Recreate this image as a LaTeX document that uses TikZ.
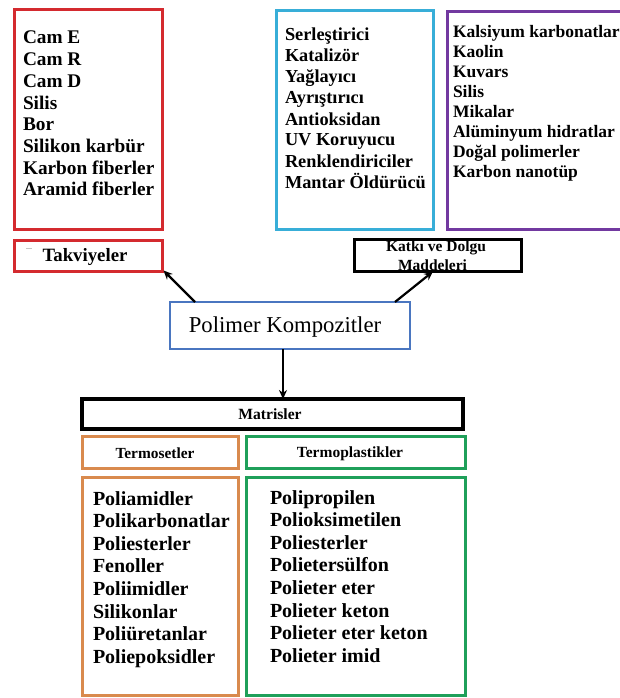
\documentclass[tikz,border=0pt]{standalone}
\usepackage{fontspec}
\setmainfont{Liberation Serif}
\usetikzlibrary{arrows.meta}
\definecolor{cred}{HTML}{D42A2F}
\definecolor{ccyan}{HTML}{38AED8}
\definecolor{cpurple}{HTML}{7239A0}
\definecolor{corange}{HTML}{D98A4E}
\definecolor{cgreen}{HTML}{1FA05A}
\definecolor{cblue}{HTML}{4A76C0}
\begin{document}
\begin{tikzpicture}[x=1pt,y=-1pt,
  frame/.style={rectangle, inner sep=0pt, outer sep=0pt, line width=3pt},
  item/.style={anchor=base west, inner sep=0pt, outer sep=0pt},
  lbl/.style={anchor=base, inner sep=0pt, outer sep=0pt},
  arr/.style={line width=2.2pt, -{Stealth[length=9pt,width=8pt]}}]
\useasboundingbox (0,0) rectangle (620,698);
\fill[white] (0,0) rectangle (620,698);

% frames
\node[frame, draw=cred, line width=3.2pt, minimum width=148pt, minimum height=220pt] (reinf) at (88.5,119.5) {};
\node[frame, draw=cred, line width=3.2pt, minimum width=148pt, minimum height=31pt] (takv) at (88.5,256) {};
\node[frame, draw=ccyan, minimum width=157pt, minimum height=219pt] (katkilist) at (355,120) {};
\node[frame, draw=cpurple, minimum width=182.5pt, minimum height=218pt] (dolgulist) at (538.75,120.5) {};
\node[frame, draw=black, minimum width=167pt, minimum height=32pt] (katki) at (438,255.5) {};
\node[frame, draw=cblue, line width=1.3pt, minimum width=240pt, minimum height=47pt] (polimer) at (290,325.5) {};
\node[frame, draw=black, line width=4pt, minimum width=381pt, minimum height=30pt] (matr) at (272.5,414) {};
\node[frame, draw=corange, minimum width=156pt, minimum height=32pt] (tset) at (160.5,452.5) {};
\node[frame, draw=cgreen, minimum width=219pt, minimum height=32pt] (tplas) at (356,452.5) {};
\node[frame, draw=corange, minimum width=156pt, minimum height=218pt] (tsetlist) at (160.5,586.5) {};
\node[frame, draw=cgreen, minimum width=219pt, minimum height=218pt] (tplaslist) at (356,586.5) {};

% lists
\foreach \t [count=\i from 0] in {Cam E, Cam R, Cam D, Silis, Bor, Silikon karbür, Karbon fiberler, Aramid fiberler}
  \node[item, font=\fontsize{19.3}{21}\selectfont\bfseries] (r\i) at (23,{44+21.7*\i}) {\t};
\foreach \t [count=\i from 0] in {Serleştirici, Katalizör, Yağlayıcı, Ayrıştırıcı, Antioksidan, UV Koruyucu, Renklendiriciler, Mantar Öldürücü}
  \node[item, font=\fontsize{18.3}{20}\selectfont\bfseries] (c\i) at (285,{41+21*\i}) {\t};
\foreach \t [count=\i from 0] in {Kalsiyum karbonatlar, Kaolin, Kuvars, Silis, Mikalar, Alüminyum hidratlar, Doğal polimerler, Karbon nanotüp}
  \node[item, font=\fontsize{17.5}{19}\selectfont\bfseries] (p\i) at (453,{37.5+20.05*\i}) {\t};
\foreach \t [count=\i from 0] in {Poliamidler, Polikarbonatlar, Poliesterler, Fenoller, Poliimidler, Silikonlar, Poliüretanlar, Poliepoksidler}
  \node[item, font=\fontsize{20}{22}\selectfont\bfseries] (o\i) at (93,{505+22.6*\i}) {\t};
\foreach \t [count=\i from 0] in {Polipropilen, Polioksimetilen, Poliesterler, Polietersülfon, Polieter eter, Polieter keton, Polieter eter keton, Polieter imid}
  \node[item, font=\fontsize{20}{22}\selectfont\bfseries] (g\i) at (270,{504+22.65*\i}) {\t};

% labels
\draw[gray!45, line width=1pt] (26,248.5) -- (32,248.5);
\node[lbl, font=\fontsize{18.8}{20}\selectfont\bfseries] (takvt) at (85,261) {Takviyeler};
\node[lbl, font=\fontsize{15.5}{17}\selectfont\bfseries] (katkit1) at (436,251.5) {Katkı ve Dolgu};
\node[lbl, font=\fontsize{15.5}{17}\selectfont\bfseries] (katkit2) at (432.5,270.5) {Maddeleri};
\node[lbl, font=\fontsize{22.7}{24}\selectfont] (polimert) at (285,332) {Polimer Kompozitler};
\node[lbl, font=\fontsize{15.6}{17}\selectfont\bfseries] (matrt) at (270,419.5) {Matrisler};
\node[lbl, font=\fontsize{15.4}{17}\selectfont\bfseries] (tsett) at (155,458) {Termosetler};
\node[lbl, font=\fontsize{15.5}{17}\selectfont\bfseries] (tplast) at (350,457.5) {Termoplastikler};

% arrows
\draw[arr] ([xshift=25pt]polimer.north west) -- ([xshift=1pt,yshift=1pt]takv.south east);
\draw[arr] ([xshift=-15pt]polimer.north east) -- ([xshift=-5pt]katki.south);
\draw[arr] ([xshift=-7pt]polimer.south) -- ([xshift=10.5pt]matr.north);
\end{tikzpicture}
\end{document}
